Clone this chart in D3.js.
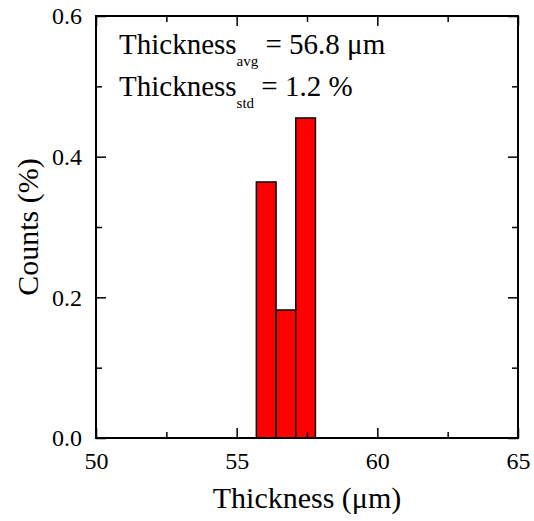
<!DOCTYPE html>
<html>
<head>
<meta charset="utf-8">
<script src="https://cdn.jsdelivr.net/npm/d3@7"></script>
<style>
  body { margin: 0; background: #fff; }
  svg text { font-family: "Liberation Serif", "Times New Roman", serif; fill: #000; }
</style>
</head>
<body>
<svg id="chart" width="534" height="521"></svg>
<script>
// histogram bins (left edge, right edge) and heights
var binStart = [55.7, 56.4, 57.1];
var binEnd = [56.4, 57.1, 57.8];
var counts = [0.364, 0.182, 0.455];

var xTicks = [50, 55, 60, 65];
var xMinor = [52.5, 57.5, 62.5];
var yTicks = [0.0, 0.2, 0.4, 0.6];
var yMinor = [0.1, 0.3, 0.5];

var width = 534, height = 521;
var margin = {left: 96, right: 16, top: 16, bottom: 83};

var svg = d3.select("#chart");

var xScale = d3.scaleLinear().domain([50, 65]).range([margin.left, width - margin.right]);
var yScale = d3.scaleLinear().domain([0, 0.6]).range([height - margin.bottom, margin.top]);

var bins = counts.map(function(c, i) { return {x0: binStart[i], x1: binEnd[i], v: c}; });

// bars
svg.selectAll(".bar").data(bins)
  .enter()
  .append("rect")
  .classed("bar", true)
  .attr("x", d => xScale(d.x0))
  .attr("y", d => yScale(d.v))
  .attr("width", d => xScale(d.x1) - xScale(d.x0))
  .attr("height", d => yScale(0) - yScale(d.v))
  .style("fill", "#ff0000")
  .style("stroke", "#000")
  .style("stroke-width", 1.5);

// axes, ticks inward on all four sides
function styleAxis(g) {
  g.select(".domain").remove();
  g.selectAll("line").style("stroke", "#000").style("stroke-width", 1.5);
}

var x0 = xScale.range()[0], x1 = xScale.range()[1];
var y0 = yScale.range()[0], y1 = yScale.range()[1];

// bottom
svg.append("g").attr("transform", "translate(0," + y0 + ")")
  .call(d3.axisTop(xScale).tickValues(xTicks).tickSize(10).tickFormat(""))
  .call(styleAxis);
svg.append("g").attr("transform", "translate(0," + y0 + ")")
  .call(d3.axisTop(xScale).tickValues(xMinor).tickSize(6).tickFormat(""))
  .call(styleAxis);
svg.append("g").attr("transform", "translate(0," + y0 + ")")
  .call(d3.axisBottom(xScale).tickValues(xTicks).tickSize(0).tickPadding(14).tickFormat(d3.format("d")))
  .call(styleAxis)
  .selectAll("text").style("font-size", "24px");

// top
svg.append("g").attr("transform", "translate(0," + y1 + ")")
  .call(d3.axisBottom(xScale).tickValues(xTicks).tickSize(10).tickFormat(""))
  .call(styleAxis);
svg.append("g").attr("transform", "translate(0," + y1 + ")")
  .call(d3.axisBottom(xScale).tickValues(xMinor).tickSize(6).tickFormat(""))
  .call(styleAxis);

// left
svg.append("g").attr("transform", "translate(" + x0 + ",0)")
  .call(d3.axisRight(yScale).tickValues(yTicks).tickSize(10).tickFormat(""))
  .call(styleAxis);
svg.append("g").attr("transform", "translate(" + x0 + ",0)")
  .call(d3.axisRight(yScale).tickValues(yMinor).tickSize(6).tickFormat(""))
  .call(styleAxis);
svg.append("g").attr("transform", "translate(" + x0 + ",0)")
  .call(d3.axisLeft(yScale).tickValues(yTicks).tickSize(0).tickPadding(14).tickFormat(d3.format(".1f")))
  .call(styleAxis)
  .selectAll("text").style("font-size", "24px");

// right
svg.append("g").attr("transform", "translate(" + x1 + ",0)")
  .call(d3.axisLeft(yScale).tickValues(yTicks).tickSize(10).tickFormat(""))
  .call(styleAxis);
svg.append("g").attr("transform", "translate(" + x1 + ",0)")
  .call(d3.axisLeft(yScale).tickValues(yMinor).tickSize(6).tickFormat(""))
  .call(styleAxis);

// frame
svg.append("rect")
  .attr("x", x0).attr("y", y1)
  .attr("width", x1 - x0).attr("height", y0 - y1)
  .style("fill", "none").style("stroke", "#000").style("stroke-width", 2);

// axis titles
svg.append("text")
  .text("Thickness (\u03bcm)")
  .style("font-size", "30px")
  .style("text-anchor", "middle")
  .attr("x", (x0 + x1) / 2).attr("y", 508);

svg.append("text")
  .text("Counts (%)")
  .style("font-size", "30px")
  .style("text-anchor", "middle")
  .attr("transform", "translate(38," + ((y0 + y1) / 2) + ") rotate(-90)");

// annotation
var notes = [
  {main: "Thickness", sub: "avg", rest: " = 56.8 \u03bcm", y: 54},
  {main: "Thickness", sub: "std", rest: " = 1.2 %", y: 96}
];
notes.forEach(function(n) {
  var t = svg.append("text").attr("x", 119).attr("y", n.y).style("font-size", "29px");
  t.append("tspan").text(n.main);
  t.append("tspan").text(n.sub).style("font-size", "15px").attr("dy", 12);
  t.append("tspan").text(n.rest).attr("dy", -12);
});
</script>
</body>
</html>
